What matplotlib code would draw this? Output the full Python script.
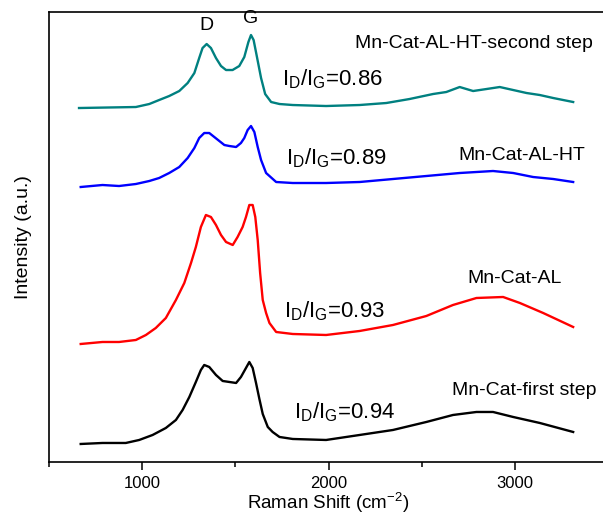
import numpy as np
import matplotlib
matplotlib.use('Agg')
import matplotlib.pyplot as plt

plt.rcParams.update({
    'font.family': ['Liberation Sans', 'DejaVu Sans'],
    'mathtext.fontset': 'custom',
    'mathtext.rm': 'Liberation Sans',
    'mathtext.it': 'Liberation Sans',
    'font.size': 11,
})

# ----- spectra (stacking offsets included) -----
# Mn-Cat-AL-HT-second step
shift_second = [661, 966, 1038, 1091, 1145, 1199, 1244, 1280, 1306, 1324, 1346,
                1369, 1396, 1423, 1450, 1485, 1521, 1548, 1570, 1584, 1598, 1616,
                1638, 1660, 1692, 1737, 1808, 1987, 2167, 2310, 2435, 2561, 2632,
                2704, 2776, 2848, 2919, 2991, 3063, 3134, 3206, 3313]
int_second = [354, 355, 358, 362, 366, 371, 379, 389, 404, 414, 418,
              414, 404, 396, 392, 392, 396, 405, 420, 427, 422, 405,
              384, 368, 360, 358, 357, 356, 357, 359, 363, 368, 370,
              375, 371, 373, 375, 372, 369, 367, 364, 360]

# Mn-Cat-AL-HT
shift_ht = [670, 787, 876, 966, 1038, 1091, 1145, 1199, 1244, 1280, 1306, 1333,
            1360, 1387, 1414, 1441, 1468, 1504, 1530, 1548, 1566, 1584, 1602,
            1620, 1638, 1665, 1719, 1808, 1987, 2167, 2346, 2525, 2704, 2883,
            2991, 3098, 3206, 3313]
int_ht = [275, 277, 276, 278, 281, 284, 289, 295, 304, 314, 324, 329,
          329, 325, 321, 317, 316, 315, 319, 324, 332, 336, 330,
          315, 302, 289, 280, 279, 279, 280, 283, 286, 289, 291,
          289, 285, 283, 280]

# Mn-Cat-AL
shift_al = [670, 787, 876, 966, 1020, 1073, 1127, 1181, 1226, 1262, 1288, 1315,
            1342, 1369, 1396, 1423, 1450, 1486, 1512, 1539, 1557, 1575, 1593,
            1607, 1620, 1633, 1647, 1665, 1683, 1719, 1808, 1987, 2167, 2346,
            2525, 2668, 2794, 2937, 3027, 3152, 3313]
int_al = [118, 120, 120, 122, 127, 134, 144, 162, 179, 199, 215, 235,
          247, 245, 237, 227, 220, 217, 225, 235, 245, 257, 257,
          245, 222, 189, 162, 149, 139, 130, 128, 127, 131, 137,
          146, 157, 164, 165, 159, 149, 135]

# Mn-Cat-first step
shift_first = [670, 787, 912, 984, 1056, 1127, 1181, 1217, 1253, 1288, 1315, 1333,
               1360, 1396, 1432, 1468, 1504, 1530, 1557, 1575, 1593, 1611, 1629,
               1647, 1674, 1700, 1737, 1808, 1987, 2167, 2346, 2525, 2668, 2794,
               2883, 2991, 3134, 3313]
int_first = [18, 19, 19, 22, 27, 34, 42, 52, 65, 80, 92, 97,
             95, 87, 81, 80, 79, 85, 94, 100, 94, 79, 63,
             48, 35, 30, 25, 23, 22, 27, 32, 40, 47, 50,
             50, 45, 39, 30]

names = ['Mn-Cat-AL-HT-second step', 'Mn-Cat-AL-HT', 'Mn-Cat-AL', 'Mn-Cat-first step']
ratios = ['0.86', '0.89', '0.93', '0.94']
colors = ['#008080', '#0000ff', '#ff0000', '#000000']

fig = plt.figure(figsize=(6.03, 5.16), dpi=100)
ax = fig.add_axes([0.0813, 0.1047, 0.927, 0.872])

series = [(shift_second, int_second), (shift_ht, int_ht),
          (shift_al, int_al), (shift_first, int_first)]
for (xs, ys), c in zip(series, colors):
    ax.plot(xs, ys, color=c, lw=1.7)

# peak labels
ax.text(1344, 437, 'D', fontsize=14, ha='center', va='center')
ax.text(1581, 444, 'G', fontsize=14, ha='center', va='center')

# sample names
name_pos = [(2140, 414), (2699, 302), (2747, 179), (2661, 67)]
for name, (px, py) in zip(names, name_pos):
    ax.text(px, py, name, fontsize=14, ha='left', va='baseline')

# ID/IG ratios
ratio_pos = [(1753, 377), (1774, 298), (1763, 145), (1817, 44)]
for r, (px, py) in zip(ratios, ratio_pos):
    ax.text(px, py, r'I$_\mathregular{D}$/I$_\mathregular{G}$=' + r,
            fontsize=16, ha='left', va='baseline')

ax.set_xlim(500, 3500)
ax.set_ylim(0, 450)
ax.set_xticks([1000, 2000, 3000])
ax.set_xticks([500, 1500, 2500, 3500], minor=True)
ax.set_yticks([])
ax.tick_params(axis='x', which='major', direction='out', length=6, width=1.1, pad=4, labelsize=12)
ax.tick_params(axis='x', which='minor', direction='out', length=3.5, width=1.1)
for s in ax.spines.values():
    s.set_visible(True)
    s.set_color('black')
    s.set_linewidth(1.2)

ax.set_xlabel('Raman Shift (cm$^{-2}$)', fontsize=13.5, labelpad=0)
ax.set_ylabel('Intensity (a.u.)', fontsize=14, labelpad=12)

plt.savefig('out.png', dpi=100)
plt.close()
